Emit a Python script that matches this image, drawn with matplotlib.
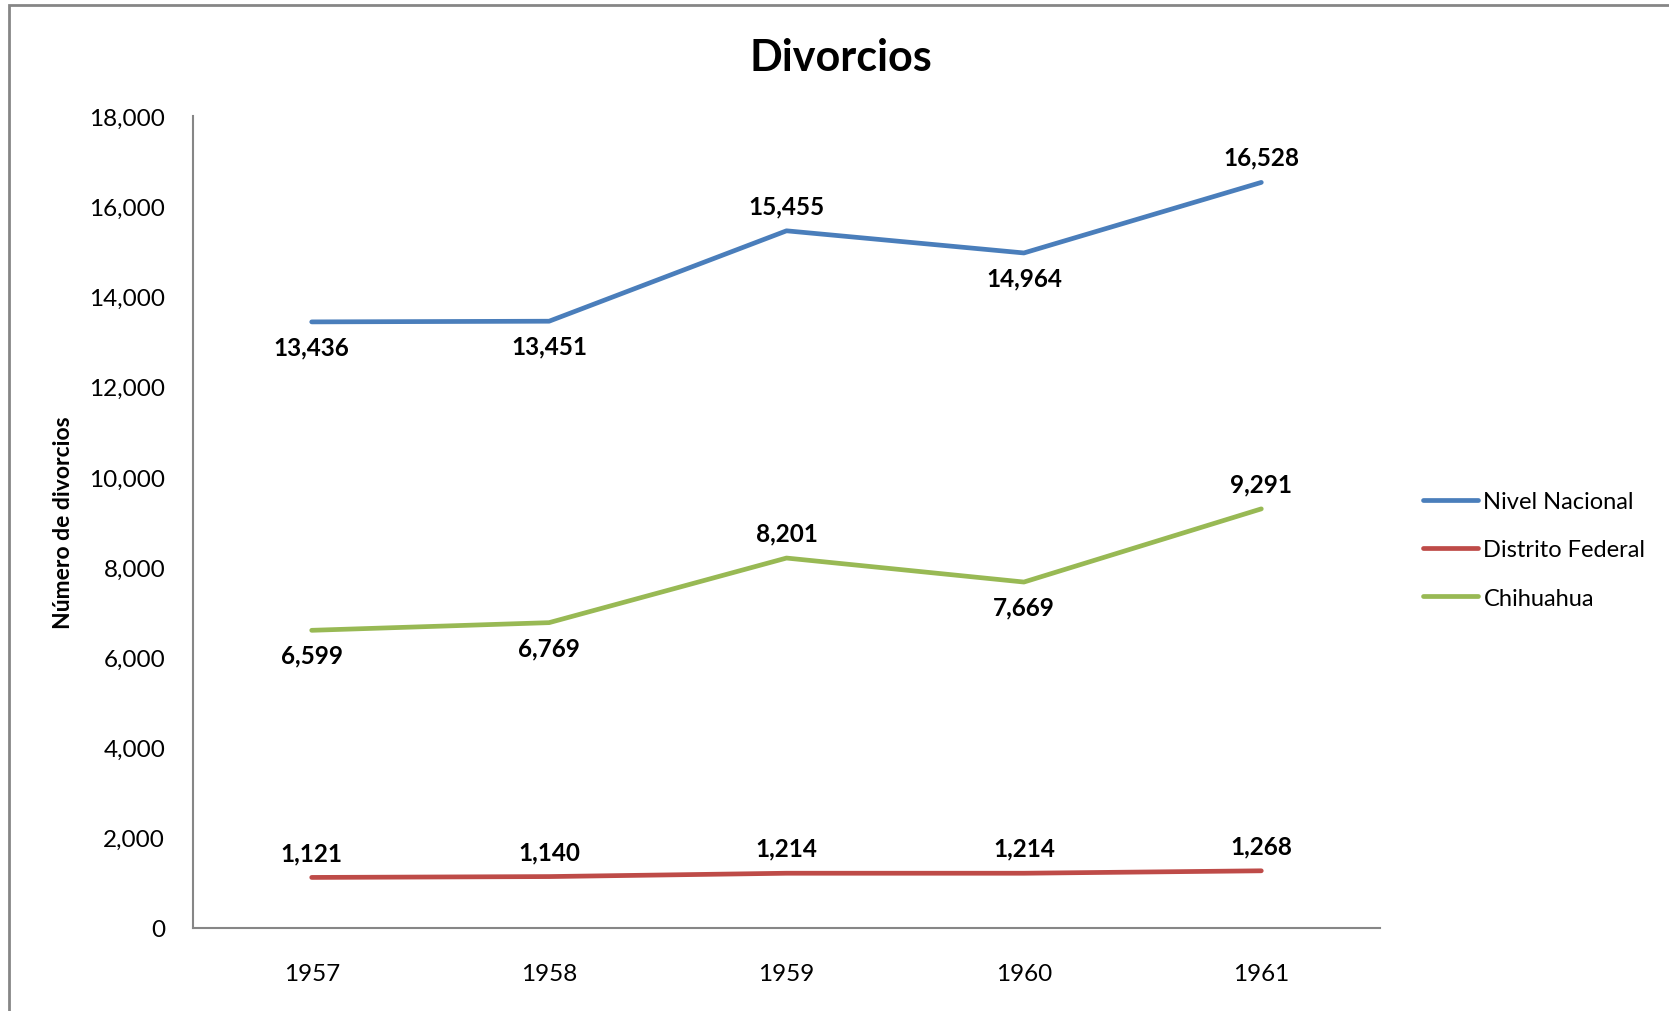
import matplotlib.pyplot as plt
from matplotlib.patches import Rectangle

years = ["1957", "1958", "1959", "1960", "1961"]
nacional = [13436, 13451, 15455, 14964, 16528]
distrito = [1121, 1140, 1214, 1214, 1268]
chihuahua = [6599, 6769, 8201, 7669, 9291]

# label placement per point: 1 = above, -1 = below
pos_nacional = [-1, -1, 1, -1, 1]
pos_distrito = [1, 1, 1, 1, 1]
pos_chihuahua = [-1, -1, 1, -1, 1]

series = [
    ("Nivel Nacional", nacional, pos_nacional, "#4A7EBB"),
    ("Distrito Federal", distrito, pos_distrito, "#BE4B48"),
    ("Chihuahua", chihuahua, pos_chihuahua, "#98B954"),
]

plt.rcParams["font.family"] = ["Lato", "DejaVu Sans"]

W, H = 1669, 1012
fig = plt.figure(figsize=(W / 100, H / 100), dpi=100)
ax = fig.add_axes([193 / W, 1 - 929 / H, (1380 - 193) / W, (929 - 117) / H])

x = list(range(len(years)))
for name, vals, pos, color in series:
    ax.plot(x, vals, color=color, lw=3.4, solid_capstyle="round", label=name)
    for xi, v, p in zip(x, vals, pos):
        ax.annotate(f"{v:,}", (xi, v), xytext=(0, 18 * p), textcoords="offset points",
                    ha="center", va="center", fontsize=17.5, fontweight="bold")

ax.set_xlim(-0.5, 4.5)
ax.set_ylim(0, 18000)
ax.set_yticks(range(0, 18001, 2000))
ax.set_yticklabels([f"{t:,}" for t in range(0, 18001, 2000)])
ax.set_xticks(x)
ax.set_xticklabels(years)
ax.tick_params(length=0, labelsize=17.5)
ax.tick_params(axis="y", pad=20)
ax.tick_params(axis="x", pad=25)
for s in ("top", "right"):
    ax.spines[s].set_visible(False)
for s in ("left", "bottom"):
    ax.spines[s].set_color("#868686")
    ax.spines[s].set_linewidth(1.5)

ax.set_ylabel("Número de divorcios", fontsize=16.5, fontweight="bold")
ax.yaxis.set_label_coords(-0.1, 0.5)

fig.text(841 / W, 1 - 58 / H, "Divorcios", ha="center", va="center",
         fontsize=31, fontweight="bold")

fig.legend(loc="center left", bbox_to_anchor=(1402 / W, 1 - 551 / H), frameon=False,
           fontsize=17, handlelength=2.3, handletextpad=0.25, labelspacing=1.15)

fig.patches.append(Rectangle((9 / W, -0.1), 1.2, 1 - 6 / H + 0.1, transform=fig.transFigure,
                             fill=False, edgecolor="#868686", lw=2))

fig.savefig("out.png", dpi=100)
